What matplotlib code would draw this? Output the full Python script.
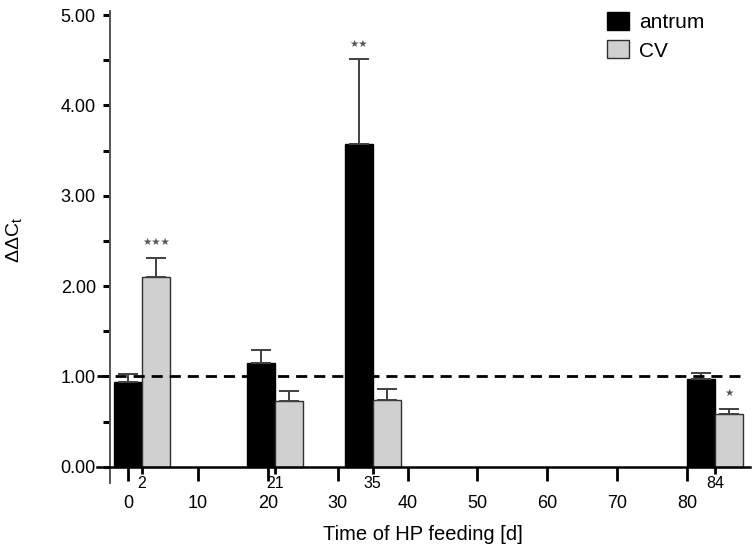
import matplotlib
matplotlib.use("Agg")
import matplotlib.pyplot as plt
from matplotlib.ticker import FixedLocator, MultipleLocator, FormatStrFormatter

plt.rcParams['font.family'] = ['Liberation Sans', 'DejaVu Sans']

days = [2, 21, 35, 84]
day_labels = ['2', '21', '35', '84']
antrum = [0.94, 1.15, 3.57, 0.97]
antrum_err = [0.09, 0.14, 0.94, 0.07]
cv = [2.10, 0.73, 0.74, 0.58]
cv_err = [0.21, 0.11, 0.12, 0.06]
stars_antrum = [0, 0, 2, 0]
stars_cv = [3, 0, 0, 1]
major_ticks = [0, 10, 20, 30, 40, 50, 60, 70, 80]
bar_w = 4.0

fig = plt.figure(figsize=(7.56, 5.51), dpi=100)
ax = fig.add_axes([0.1277, 0.1234, 0.8644, 0.8575])

ea = dict(ecolor='#404040', elinewidth=1.4, capsize=7, capthick=1.4)
ax.bar([d - bar_w / 2 for d in days], antrum, width=bar_w, color='black',
       edgecolor='black', linewidth=1, label='antrum', zorder=2,
       yerr=[[0] * 4, antrum_err], error_kw=ea)
ax.bar([d + bar_w / 2 for d in days], cv, width=bar_w, color='#d0d0d0',
       edgecolor='#303030', linewidth=1, label='CV', zorder=2,
       yerr=[[0] * 4, cv_err], error_kw=ea)

ax.axhline(1.0, xmin=0.0, xmax=0.985, color='black', linestyle=(0, (4, 2.5)),
           linewidth=2, zorder=3)

for d, v, e, n in zip(days, antrum, antrum_err, stars_antrum):
    if n:
        ax.text(d - bar_w / 2, v + e + 0.17, '\u2605' * n, ha='center',
                va='center', fontsize=7.5, color='#555555',
                family=['DejaVu Sans'])
for d, v, e, n in zip(days, cv, cv_err, stars_cv):
    if n:
        ax.text(d + bar_w / 2, v + e + 0.18, '\u2605' * n, ha='center',
                va='center', fontsize=7.5, color='#555555',
                family=['DejaVu Sans'])

ax.set_xlim(-4.5, 89)
ax.spines['bottom'].set_position(('data', 0))
ax.spines['left'].set_position(('data', -2.6))
ax.spines['top'].set_visible(False)
ax.spines['right'].set_visible(False)
ax.spines['bottom'].set_linewidth(1.8)
ax.spines['left'].set_linewidth(1.4)
ax.spines['left'].set_color('#555555')

ax.xaxis.set_major_locator(FixedLocator(major_ticks))
ax.set_xticklabels([str(t) for t in major_ticks])
ax.xaxis.set_minor_locator(FixedLocator(days))
ax.set_xticklabels(day_labels, minor=True)
ax.tick_params(axis='x', which='major', length=10, width=2, pad=10,
               labelsize=13, direction='out')
ax.tick_params(axis='x', which='minor', length=5, width=2, pad=2,
               labelsize=11.5, direction='out')

ax.yaxis.set_major_locator(MultipleLocator(1.0))
ax.yaxis.set_minor_locator(MultipleLocator(0.5))
ax.yaxis.set_major_formatter(FormatStrFormatter('%.2f'))
ax.tick_params(axis='y', which='both', length=5, width=2.2, pad=5,
               labelsize=13, direction='out')
ax.set_ylim(-0.18, 5.05)

fig.text(423 / 756, 1 - 534 / 551, 'Time of HP feeding [d]', ha='center',
         va='center', fontsize=14.5)
fig.text(15 / 756, 1 - 240 / 551, r'ΔΔC$_\mathregular{t}$', ha='center',
         va='center', rotation=90, fontsize=14)

ax.legend(loc='upper left', bbox_to_anchor=(607 / 756, 1 - 12 / 551),
          bbox_transform=fig.transFigure, frameon=False, fontsize=15,
          handlelength=1.05, handleheight=0.95, handletextpad=0.5,
          labelspacing=0.4, borderpad=0, borderaxespad=0)

fig.savefig('out.png', dpi=100)
